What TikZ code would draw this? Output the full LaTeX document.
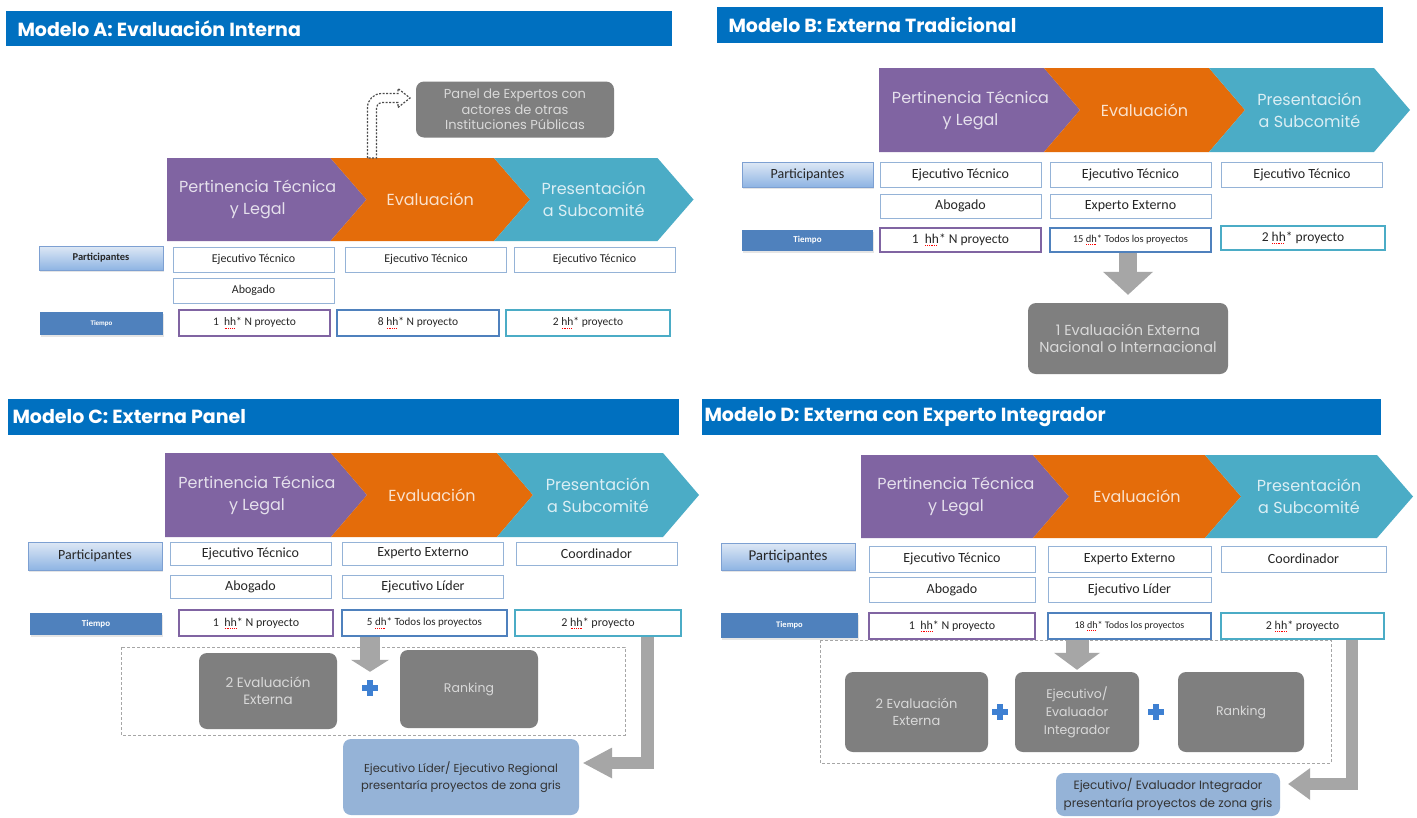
\documentclass[tikz,border=0pt]{standalone}
\usepackage{fontspec}
\setmainfont{Carlito}
\newfontfamily\gotica{Poppins}
\usetikzlibrary{arrows.meta, calc, shadows}

\definecolor{azultitulo}{RGB}{0,112,192}
\definecolor{morado}{RGB}{128,100,162}
\definecolor{naranja}{RGB}{228,108,10}
\definecolor{turquesa}{RGB}{75,172,198}
\definecolor{bordecelda}{RGB}{149,179,215}
\definecolor{bordepart}{RGB}{125,160,210}
\definecolor{partarriba}{RGB}{222,232,245}
\definecolor{partabajo}{RGB}{142,180,227}
\definecolor{azultiempo}{RGB}{79,129,189}
\definecolor{grisbloque}{RGB}{127,127,127}
\definecolor{grisclaro}{RGB}{217,217,217}
\definecolor{grisflecha}{RGB}{166,166,166}
\definecolor{azulsalida}{RGB}{149,179,215}
\definecolor{azulmas}{RGB}{62,128,210}

% subrayado rojo del corrector, hecho de trocitos de regla
\newcommand\rojo[1]{\setbox0=\hbox{#1}\rlap{\color{red}\lower2.4pt\hbox to\wd0{\leaders\hbox to 1.8pt{\hss\rule{1pt}{0.6pt}\hss}\hfil}}\box0}
\newcommand\cuerpo[2]{\fontsize{#1}{#2}\selectfont}

\begin{document}
\begin{tikzpicture}[x=1pt, y=-1pt,
  titulo/.style={anchor=west, text=white, font=\gotica\bfseries\cuerpo{19}{21}},
  etapa/.style={align=center, font=\gotica\cuerpo{16}{22}},
  celda/.style={draw=bordecelda, fill=white, line width=0.9pt, inner sep=0pt, text=black!85},
  partic/.style={draw=bordepart, line width=0.8pt, top color=partarriba, bottom color=partabajo,
                 inner sep=0pt, text=black!85,
                 drop shadow={opacity=0.2, shadow xshift=1pt, shadow yshift=-2pt}},
  tiempo/.style={fill=azultiempo, text=white, inner sep=0pt,
                 drop shadow={opacity=0.2, shadow xshift=1pt, shadow yshift=-2pt}},
  hora/.style={fill=white, line width=1.2pt, inner sep=0pt, text=black!85},
  bloque/.style={fill=grisbloque, rounded corners=8pt, text=grisclaro, align=center, inner sep=0pt},
  salida/.style={fill=azulsalida, rounded corners=8pt, text=black!80, align=center, inner sep=0pt},
  flechagris/.style={draw=grisflecha, line join=miter},
  marco/.style={draw=grisflecha, line width=0.9pt, dash pattern=on 3pt off 2pt},
  mas/.style={minimum size=16pt, inner sep=0pt, path picture={
      \fill[azulmas] ($(path picture bounding box.center)+(-8,-2.8)$) rectangle +(16,5.6);
      \fill[azulmas] ($(path picture bounding box.center)+(-2.8,-8)$) rectangle +(5.6,16);}}
]

% la pagina va in pixel: 1pt = 1px, y verso il basso
\fill[white] (0,0) rectangle (1417,817);
\useasboundingbox (0,0) rectangle (1417,817);

% catena delle tre fasi: prefisso, x iniziale, y alto, y basso, larghezza
\def\etapas#1#2#3#4#5{%
  \pgfmathsetmacro\xa{#2+#5}%
  \pgfmathsetmacro\xb{#2+2*#5}%
  \pgfmathsetmacro\xc{#2+3*#5}%
  \pgfmathsetmacro\ym{(#3+#4)/2}%
  \fill[morado] (#2,#3) -- (\xa,#3) -- (\xa+36,\ym) -- (\xa,#4) -- (#2,#4) -- cycle;
  \fill[naranja] (\xa,#3) -- (\xb,#3) -- (\xb+36,\ym) -- (\xb,#4) -- (\xa,#4) -- (\xa+36,\ym) -- cycle;
  \fill[turquesa] (\xb,#3) -- (\xc,#3) -- (\xc+36,\ym) -- (\xc,#4) -- (\xb,#4) -- (\xb+36,\ym) -- cycle;
  \node[etapa, text=white!80!morado] (#1-pert) at (#2+#5/2+9,\ym) {Pertinencia Técnica\\y Legal};
  \node[etapa, text=white!80!naranja] (#1-eval) at (\xa+18+#5/2,\ym) {Evaluación};
  \node[etapa, text=white!80!turquesa] (#1-pres) at (\xb+18+#5/2,\ym) {Presentación\\a Subcomité};
}

% ---- Modelo A ------------------------------------------------------
\fill[azultitulo] (6,11) rectangle (672,46);
\node[titulo] (a-titulo) at (14,28.5) {Modelo A: Evaluación Interna};
\etapas{a}{167}{158}{241}{163.5}

\node[bloque, minimum width=198pt, minimum height=56pt, font=\gotica\cuerpo{13}{15.5}]
  (a-panel) at (515,109.5) {Panel de Expertos con\\actores de otras\\Instituciones Públicas};
% flecha doblada a trazos hacia el panel
\draw[black!70, fill=white, line width=1.2pt, dash pattern=on 2pt off 1.5pt]
  (367.5,158) -- (367.5,107.5) .. controls (367.5,99.8) and (373.8,93.5) .. (381.5,93.5)
  -- (398,93.5) -- (398,88.5) -- (410,98) -- (398,107.5) -- (398,102.5) -- (381.5,102.5)
  .. controls (378.7,102.5) and (376.5,104.7) .. (376.5,107.5) -- (376.5,158) -- cycle;

\begin{scope}[celda/.append style={minimum width=161pt, minimum height=25pt, font=\cuerpo{12}{14}},
              hora/.append style={minimum height=26pt, font=\cuerpo{11.5}{13}}]
\node[partic, minimum width=124pt, minimum height=24pt, font=\bfseries\cuerpo{10.5}{12}] (a-part) at (101,258) {Participantes};
\node[celda] (a-e1) at (253.5,259.5) {Ejecutivo Técnico};
\node[celda] (a-e2) at (426,259.5) {Ejecutivo Técnico};
\node[celda] (a-e3) at (594.5,259.5) {Ejecutivo Técnico};
\node[celda] (a-abog) at (253.5,290.5) {Abogado};
\node[tiempo, minimum width=123pt, minimum height=23pt, font=\bfseries\cuerpo{7}{8}] (a-tiempo) at (101.5,323.5) {Tiempo};
\node[hora, draw=morado, minimum width=151pt] (a-t1) at (254.5,323) {1~ \rojo{hh}* N proyecto};
\node[hora, draw=azultiempo, minimum width=162pt] (a-t2) at (418,323) {8 \rojo{hh}* N proyecto};
\node[hora, draw=turquesa, minimum width=164pt] (a-t3) at (588,323) {2 \rojo{hh} * proyecto};
\end{scope}

% ---- Modelo B ------------------------------------------------------
\fill[azultitulo] (717,7) rectangle (1383,43);
\node[titulo] (b-titulo) at (725,25) {Modelo B: Externa Tradicional};
\etapas{b}{879}{68}{152}{165}

\begin{scope}[celda/.append style={minimum width=161pt, minimum height=25pt, font=\cuerpo{14}{16}},
              hora/.append style={minimum height=24pt, font=\cuerpo{13.5}{15}}]
\node[partic, minimum width=131pt, minimum height=25pt, font=\cuerpo{14}{16}] (b-part) at (807.5,174.5) {Participantes};
\node[celda] (b-e1) at (960.5,174.5) {Ejecutivo Técnico};
\node[celda] (b-e2) at (1130.5,174.5) {Ejecutivo Técnico};
\node[celda] (b-e3) at (1302,174.5) {Ejecutivo Técnico};
\node[celda, minimum height=24pt] (b-abog) at (960.5,206) {Abogado};
\node[celda, minimum height=24pt] (b-exp) at (1130.5,206) {Experto Externo};
\node[tiempo, minimum width=131pt, minimum height=21pt, font=\bfseries\cuerpo{9}{10}] (b-tiempo) at (807.5,240.5) {Tiempo};
\node[hora, draw=morado, minimum width=161pt] (b-t1) at (960.5,240) {1~ \rojo{hh}* N proyecto};
\node[hora, draw=azultiempo, minimum width=161pt, font=\cuerpo{10.5}{12}] (b-t2) at (1130.5,240) {15 \rojo{dh}* Todos los proyectos};
\node[hora, draw=turquesa, minimum width=164pt] (b-t3) at (1303,238) {2 \rojo{hh} * proyecto};
\end{scope}

\node[bloque, minimum width=200pt, minimum height=71pt, font=\gotica\cuerpo{14.5}{17}]
  (b-ext) at (1128,338.5) {1 Evaluación Externa\\Nacional o Internacional};
\draw[flechagris, line width=18pt, -{Triangle[width=50pt, length=23pt, line width=0pt]}, shorten >=8pt]
  (b-t2.south -| b-ext.north) -- (b-ext.north);

% ---- Modelo C ------------------------------------------------------
\fill[azultitulo] (8,399) rectangle (679,435);
\node[titulo] (c-titulo) at (9,417) {Modelo C: Externa Panel};
\etapas{c}{165}{453}{537}{166}

\begin{scope}[celda/.append style={minimum width=161pt, minimum height=23pt, font=\cuerpo{14}{16}},
              hora/.append style={minimum height=26pt, font=\cuerpo{12}{14}}]
\node[partic, minimum width=134pt, minimum height=28pt, font=\cuerpo{14}{16}] (c-part) at (95,556) {Participantes};
\node[celda] (c-e1) at (250.5,553.5) {Ejecutivo Técnico};
\node[celda] (c-e2) at (423,553.5) {Experto Externo};
\node[celda] (c-e3) at (596.5,553.5) {Coordinador};
\node[celda] (c-abog) at (250.5,586.5) {Abogado};
\node[celda] (c-lid) at (423,586.5) {Ejecutivo Líder};
\node[tiempo, minimum width=132pt, minimum height=22pt, font=\bfseries\cuerpo{9}{10}] (c-tiempo) at (96,624) {Tiempo};
\node[hora, draw=morado, minimum width=154pt] (c-t1) at (256,623) {1~ \rojo{hh}* N proyecto};
\node[hora, draw=azultiempo, minimum width=165pt, font=\cuerpo{11}{13}] (c-t2) at (424.5,623) {5 \rojo{dh}* Todos los proyectos};
\node[hora, draw=turquesa, minimum width=166pt] (c-t3) at (598,623) {2 \rojo{hh} * proyecto};
\end{scope}

\draw[marco] (121,647) rectangle (625,735);
\node[bloque, minimum width=138pt, minimum height=76pt, font=\gotica\cuerpo{13.5}{17}] (c-dos) at (268,691) {2 Evaluación\\Externa};
\node[mas] (c-mas) at (370,688) {};
\node[bloque, minimum width=138pt, minimum height=78pt, font=\gotica\cuerpo{12.5}{14}] (c-rank) at (469,689) {Ranking};
\node[salida, minimum width=236pt, minimum height=76pt, font=\gotica\cuerpo{11.5}{17}]
  (c-lider) at (461,777) {Ejecutivo Líder/ Ejecutivo Regional\\presentaría proyectos de zona gris};

\draw[flechagris, line width=20pt, -{Triangle[width=38pt, length=12pt, line width=0pt]}, shorten >=8pt]
  (c-t2.south -| c-mas) -- (c-mas.north);
\coordinate (c-codo) at (647.5,763);
\draw[flechagris, line width=12.5pt, -{Triangle[width=31pt, length=29pt, line width=0pt]}, shorten >=4pt]
  (c-t3.south -| c-codo) -- (c-codo) -- (c-codo -| c-lider.east);

% ---- Modelo D ------------------------------------------------------
\fill[azultitulo] (702,399) rectangle (1381,435);
\node[titulo] (d-titulo) at (701,417) {Modelo D: Externa con Experto Integrador};
\etapas{d}{861}{455}{538}{172}

\begin{scope}[celda/.append style={minimum height=26pt, font=\cuerpo{14}{16}},
              hora/.append style={minimum height=26pt, font=\cuerpo{12}{14}}]
\node[partic, minimum width=134pt, minimum height=27pt, font=\cuerpo{15}{17}] (d-part) at (788,556.5) {Participantes};
\node[celda, minimum width=166pt] (d-e1) at (952,559) {Ejecutivo Técnico};
\node[celda, minimum width=163pt] (d-e2) at (1129.5,559) {Experto Externo};
\node[celda, minimum width=165pt] (d-e3) at (1303.5,559) {Coordinador};
\node[celda, minimum width=166pt, minimum height=25pt] (d-abog) at (952,589.5) {Abogado};
\node[celda, minimum width=163pt, minimum height=25pt] (d-lid) at (1129.5,589.5) {Ejecutivo Líder};
\node[tiempo, minimum width=137pt, minimum height=25pt, font=\bfseries\cuerpo{8.5}{10}] (d-tiempo) at (789.5,625.5) {Tiempo};
\node[hora, draw=morado, minimum width=166pt] (d-t1) at (952,626) {1~ \rojo{hh}* N proyecto};
\node[hora, draw=azultiempo, minimum width=163pt, font=\cuerpo{10}{12}] (d-t2) at (1129.5,626) {18 \rojo{dh}* Todos los proyectos};
\node[hora, draw=turquesa, minimum width=163pt] (d-t3) at (1302.5,626) {2 \rojo{hh} * proyecto};
\end{scope}

\draw[marco] (820,640) rectangle (1331,763);
\node[bloque, minimum width=143pt, minimum height=80pt, font=\gotica\cuerpo{13}{17}] (d-dos) at (916.5,712) {2 Evaluación\\Externa};
\node[mas] (d-mas1) at (1000,712) {};
\node[bloque, minimum width=124pt, minimum height=80pt, font=\gotica\cuerpo{12.5}{18}] (d-int) at (1077,712) {Ejecutivo/\\Evaluador\\Integrador};
\node[mas] (d-mas2) at (1156,712) {};
\node[bloque, minimum width=126pt, minimum height=80pt, font=\gotica\cuerpo{12.5}{14}] (d-rank) at (1241,712) {Ranking};
\node[salida, minimum width=224pt, minimum height=43pt, font=\gotica\cuerpo{12}{18}]
  (d-lider) at (1168,794.5) {Ejecutivo/ Evaluador Integrador\\presentaría proyectos de zona gris};

\draw[flechagris, line width=23pt, -{Triangle[width=46pt, length=17pt, line width=0pt]}, shorten >=2pt]
  (d-t2.south -| d-int) -- (d-int.north);
\coordinate (d-codo) at (1352,784);
\draw[flechagris, line width=12pt, -{Triangle[width=32pt, length=22pt, line width=0pt]}, shorten >=8pt]
  (d-t3.south -| d-codo) -- (d-codo) -- (d-codo -| d-lider.east);

\end{tikzpicture}
\end{document}
